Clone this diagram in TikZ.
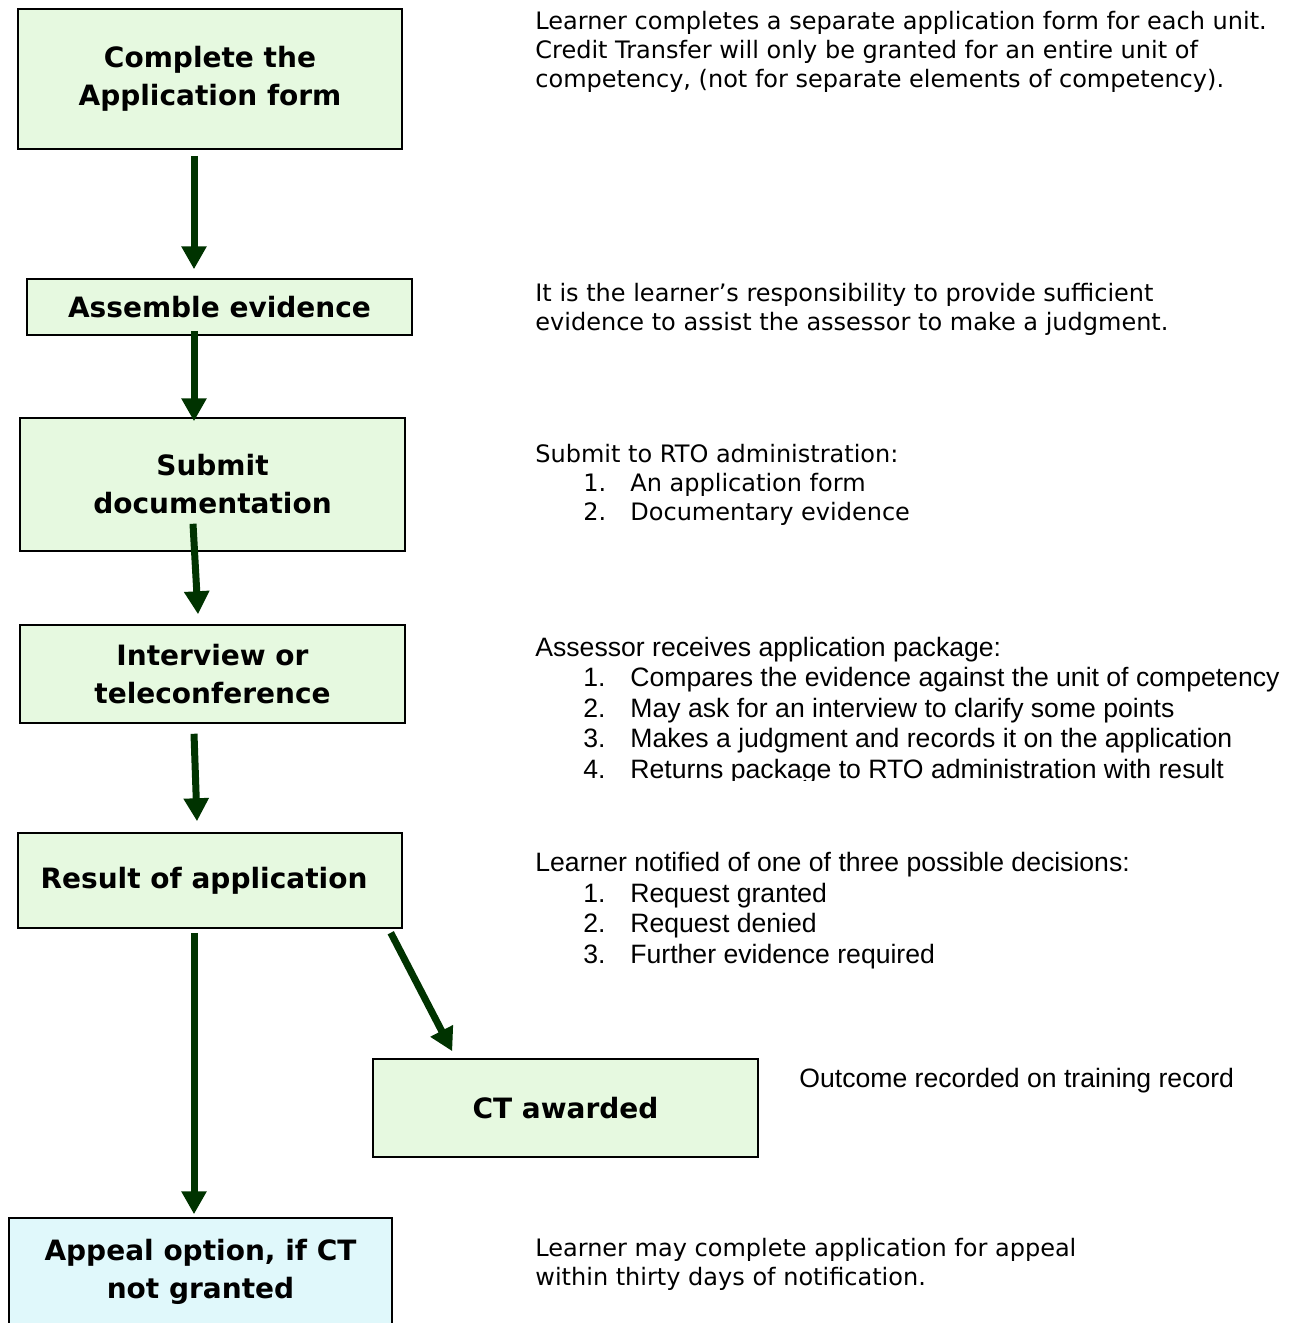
\documentclass[tikz,border=0pt]{standalone}
\usepackage{fontspec}
\setmainfont{DejaVu Sans}
\newfontfamily\arialfont{Liberation Sans}
\usetikzlibrary{arrows.meta, calc}
\definecolor{boxgreen}{RGB}{230,249,224}
\definecolor{boxcyan}{RGB}{224,248,251}
\definecolor{arrowgreen}{RGB}{0,51,0}
\newcommand\numitem[2]{\hspace*{24pt}\makebox[23.5pt][l]{#1}#2}

\begin{document}
\begin{tikzpicture}[x=0.5pt, y=-0.5pt]

         %%%%%%%%%%%%%%%%%%%%%%%%%%%%%%%%%%%%%%%%%%%%%%%%%%%%%%%%%%%%%%%%%%%%%%
         % Parameter
         %%%%%%%%%%%%%%%%%%%%%%%%%%%%%%%%%%%%%%%%%%%%%%%%%%%%%%%%%%%%%%%%%%%%%%
         \def\notex{535}
         \def\boxw{192.5pt}

         \useasboundingbox (0,0) rectangle (1294,1323);

         % Stile fuer Kaesten, Pfeile und Notizen
         % (Notizen haengen an der Grundlinie ihrer letzten Zeile)
         \tikzset{
            stepbox/.style={
            draw=black, line width=0.75pt, fill=boxgreen,
            align=center, inner sep=0pt,
            font=\fontsize{14}{19}\selectfont\bfseries
            },
            flow/.style={
            line width=3.5pt, arrowgreen,
            -{Triangle[length=11.5pt,width=12pt]}
            },
            verdanote/.style={
            anchor=base west, align=left, inner sep=0pt,
            font=\fontsize{12}{14.5}\selectfont
            },
            arialnote/.style={
            anchor=base west, align=left, inner sep=0pt,
            font=\arialfont\fontsize{13.3}{15.25}\selectfont
            }
         }

         %%%%%%%%%%%%%%%%%%%%%%%%%%%%%%%%%%%%%%%%%%%%%%%%%%%%%%%%%%%%%%%%%%%%%%
         % Kaesten
         %%%%%%%%%%%%%%%%%%%%%%%%%%%%%%%%%%%%%%%%%%%%%%%%%%%%%%%%%%%%%%%%%%%%%%
         \node[stepbox, minimum width=192pt, minimum height=70pt] (apply) at (210,79)
            {Complete the\\Application form};
         \node[stepbox, minimum width=\boxw, minimum height=28pt] (assemble) at (219.5,307)
            {Assemble evidence};
         \node[stepbox, minimum width=\boxw, minimum height=66.5pt] (submit) at (212.5,484.5)
            {Submit\\documentation};
         \node[stepbox, minimum width=\boxw, minimum height=49pt] (interview) at (212.5,674)
            {Interview or\\teleconference};
         \node[stepbox, minimum width=192pt, minimum height=47.5pt] (result) at (210,880.5)
            {Result of application\hspace*{6pt}};
         \node[stepbox, minimum width=\boxw, minimum height=49pt] (awarded) at (565.5,1108)
            {CT awarded};
         \node[stepbox, fill=boxcyan, minimum width=191.5pt, minimum height=54pt] (appeal) at (200.5,1272)
            {Appeal option, if CT\\not granted};

         %%%%%%%%%%%%%%%%%%%%%%%%%%%%%%%%%%%%%%%%%%%%%%%%%%%%%%%%%%%%%%%%%%%%%%
         % Pfeile
         %%%%%%%%%%%%%%%%%%%%%%%%%%%%%%%%%%%%%%%%%%%%%%%%%%%%%%%%%%%%%%%%%%%%%%
         \draw[flow] ($(apply.south)+(-16,6)$) -- ($(assemble.north)+(-25.5,-9)$);
         \draw[flow] ($(assemble.south)+(-25.5,-5)$) -- ($(submit.north)+(-18.5,4)$);
         \draw[flow] ($(submit.south)+(-19.5,-28)$) -- ($(interview.north)+(-14.5,-10)$);
         \draw[flow] ($(interview.south)+(-18.5,10)$) -- ($(result.north)+(-13,-11)$);
         \draw[flow] ($(result.south)+(-16,4)$) -- ($(appeal.north)+(-6.5,-3)$);
         \draw[flow] ($(result.south east)+(-12,4)$) -- ($(awarded.north west)+(80,-7)$);

         %%%%%%%%%%%%%%%%%%%%%%%%%%%%%%%%%%%%%%%%%%%%%%%%%%%%%%%%%%%%%%%%%%%%%%
         % Notizen rechts
         %%%%%%%%%%%%%%%%%%%%%%%%%%%%%%%%%%%%%%%%%%%%%%%%%%%%%%%%%%%%%%%%%%%%%%
         \node[verdanote] (applynote) at (\notex,87)
            {Learner completes a separate application form for each unit.\\
             Credit Transfer will only be granted for an entire unit of\\
             competency, (not for separate elements of competency).};

         \node[verdanote] (assemblenote) at (\notex,330)
            {It is the learner’s responsibility to provide sufficient\\
             evidence to assist the assessor to make a judgment.};

         \node[verdanote] (submitnote) at (\notex,520)
            {Submit to RTO administration:\\
             \numitem{1.}{An application form}\\
             \numitem{2.}{Documentary evidence}};

         % letzte Zeile unten abgeschnitten
         \begin{scope}
         \clip (500,600) rectangle (1294,780);
         \node[arialnote] (interviewnote) at (\notex,778)
            {Assessor receives application package:\\
             \numitem{1.}{Compares the evidence against the unit of competency}\\
             \numitem{2.}{May ask for an interview to clarify some points}\\
             \numitem{3.}{Makes a judgment and records it on the application}\\
             \numitem{4.}{Returns package to RTO administration with result}};
         \end{scope}

         \node[arialnote] (resultnote) at (\notex,963)
            {Learner notified of one of three possible decisions:\\
             \numitem{1.}{Request granted}\\
             \numitem{2.}{Request denied}\\
             \numitem{3.}{Further evidence required}};

         \node[arialnote] (awardednote) at (799,1087)
            {Outcome recorded on training record};

         \node[verdanote] (appealnote) at (\notex,1285)
            {Learner may complete application for appeal\\
             within thirty days of notification.};

\end{tikzpicture}
\end{document}
